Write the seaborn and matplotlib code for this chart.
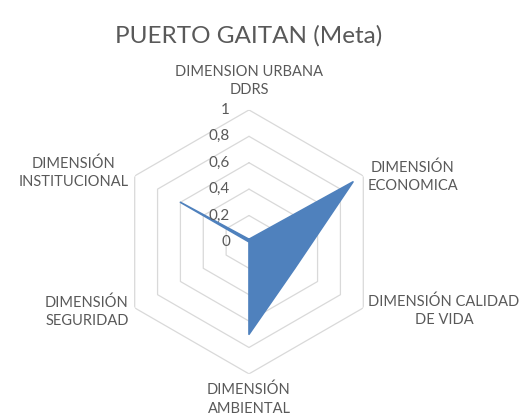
import numpy as np
import matplotlib
matplotlib.use("Agg")
import matplotlib.pyplot as plt
import seaborn as sns

#%% Data
dimensions = [
    "DIMENSION URBANA\nDDRS",
    "DIMENSIÓN\nECONOMICA",
    "DIMENSIÓN CALIDAD\nDE VIDA",
    "DIMENSIÓN\nAMBIENTAL",
    "DIMENSIÓN\nSEGURIDAD",
    "DIMENSIÓN\nINSTITUCIONAL",
]
scores = [0.02, 0.91, 0.40, 0.70, 0.00, 0.60]
ring_levels = [0.2, 0.4, 0.6, 0.8, 1.0]
ring_labels = ["0", "0,2", "0,4", "0,6", "0,8", "1"]
title = "PUERTO GAITAN (Meta)"

#%% Style
sns.set_theme(style="white")
plt.rcParams["font.family"] = ["Lato", "DejaVu Sans"]
text_color = "#595959"
grid_color = "#D9D9D9"
fill_color = "#4F81BD"

fig = plt.figure(figsize=(5.3, 4.16), dpi=100)
ax = fig.add_axes([0.2208, 0.101, 0.498, 0.635], projection="polar")
ax.set_theta_offset(np.pi / 2)
ax.set_theta_direction(-1)

# One angle per dimension, closed polygon
n = len(dimensions)
angles = np.linspace(0, 2 * np.pi, n, endpoint=False)
closed = np.append(angles, angles[0])

# Hexagon rings
for lvl in ring_levels:
    ax.plot(closed, [lvl] * (n + 1), color=grid_color, lw=0.9, zorder=1)

# Series
vals = np.append(scores, scores[0])
ax.fill(closed, vals, color=fill_color, lw=0, zorder=3)
ax.plot(closed, vals, color=fill_color, lw=1.2, zorder=3)

ax.set_ylim(0, 1)
ax.set_xticks([])
ax.set_yticks([])
ax.grid(False)
ax.spines["polar"].set_visible(False)
ax.set_facecolor("none")

# Value labels along the top spoke
for r, lab in zip([0] + ring_levels, ring_labels):
    ax.annotate(lab, xy=(0, r), xytext=(-19, 0), textcoords="offset pixels",
                ha="right", va="center", fontsize=11, color=text_color,
                annotation_clip=False)

# Category labels
label_pos = [
    ((0, 13), "center", "bottom"),
    ((4, -1), "left", "center"),
    ((5, -3), "left", "center"),
    ((0, -9), "center", "top"),
    ((-6, -4), "right", "center"),
    ((-6, 3), "right", "center"),
]
for ang, lab, (off, ha, va) in zip(angles, dimensions, label_pos):
    ax.annotate(lab, xy=(ang, 1.0), xytext=off, textcoords="offset pixels",
                ha=ha, va=va, multialignment="center", fontsize=10.5,
                color=text_color, annotation_clip=False, linespacing=1.4)

fig.text(0.47, 0.915, title, ha="center", va="center", fontsize=17.5,
         color=text_color)

fig.savefig("out.png", dpi=100, facecolor="white")
